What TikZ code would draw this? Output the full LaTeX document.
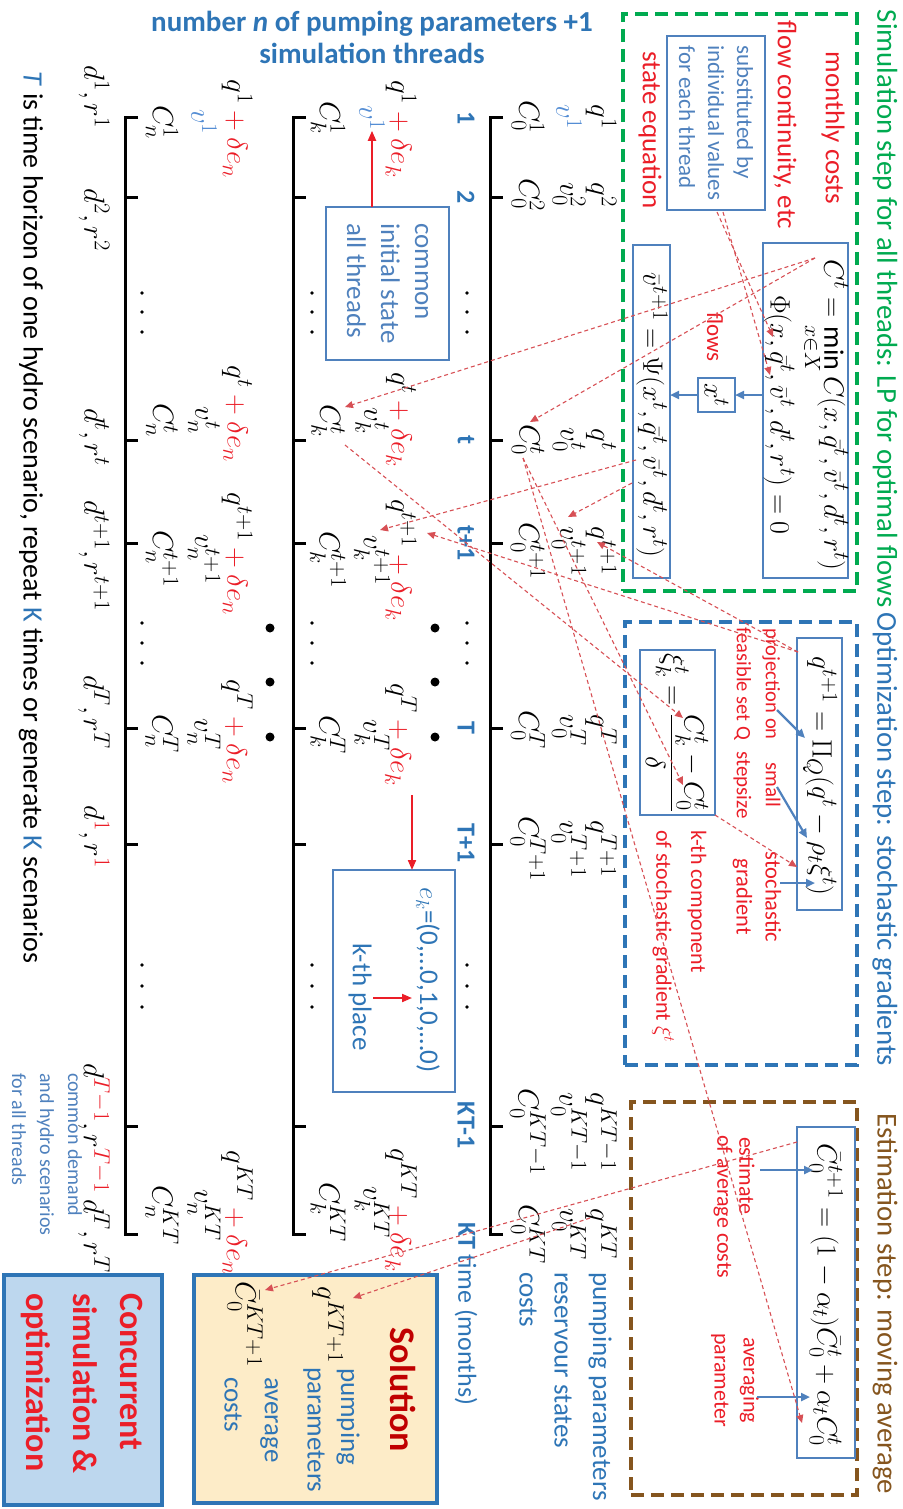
\RequirePackage{fix-cm}
\documentclass[tikz,border=0pt]{standalone}
\usepackage{amsmath}
\usepackage{fontspec}
\setmainfont{Carlito}
\usetikzlibrary{arrows.meta}
\DeclareMathSizes{28}{28}{22}{17}
\DeclareMathSizes{29}{29}{22.5}{17}
\definecolor{tgreen}{RGB}{0,170,80}
\definecolor{tblue}{RGB}{46,117,182}
\definecolor{bblue}{RGB}{79,129,189}
\definecolor{lblue}{RGB}{84,141,212}
\definecolor{tred}{RGB}{235,30,40}
\definecolor{dred}{RGB}{192,0,0}
\definecolor{tbrown}{RGB}{133,85,30}
\definecolor{lred}{RGB}{215,80,85}
\definecolor{solfill}{RGB}{253,236,200}
\definecolor{confill}{RGB}{189,215,238}
\newcommand\fsz[2]{\fontsize{#1}{#2}\selectfont}
\tikzset{
  rt/.style={rotate=-90, inner sep=0pt, outer sep=0pt},
  txt/.style={rt, font=\fsz{27}{33}},
  rtxt/.style={txt, text=tred},
  stxt/.style={rt, font=\fsz{22}{29}, text=tred},
  btxt/.style={txt, text=tblue},
  ttl/.style={rt, font=\fsz{28.8}{34}, anchor=west},
  eqm/.style={rt, font=\fsz{28}{32}},
  lab/.style={rt, font=\fsz{29}{33}},
  eqbox/.style={rt, draw=bblue, line width=2.2pt},
  dashbox/.style={line width=4.5pt, dash pattern=on 13pt off 7pt, inner sep=0pt},
  axisline/.style={line width=3pt, line join=miter},
  tlab/.style={rt, font=\bfseries\fsz{26}{30}, text=tblue},
  barrow/.style={draw=bblue, line width=2.2pt, -{Triangle[length=9pt,width=8pt]}},
  rarrow/.style={draw=tred, line width=2pt, -{Triangle[length=10pt,width=8pt]}},
  darrow/.style={draw=lred, line width=1.1pt, dash pattern=on 4pt off 3pt, -{Triangle[length=8pt,width=7pt]}},
}
\begin{document}
\begin{tikzpicture}[x=1pt,y=-1pt]
\useasboundingbox (0,0) rectangle (902,1509);
% ---------- dashed step boxes ----------
\node[dashbox, draw=tgreen, minimum width=234pt, minimum height=577pt] (simbox) at (740,302.5) {};
\node[dashbox, draw=tblue, minimum width=232pt, minimum height=443pt] (optbox) at (741,843.5) {};
\node[dashbox, draw=tbrown, minimum width=226pt, minimum height=393pt] (estbox) at (744,1298.5) {};
\node[ttl, text=tgreen] (simtitle) at (885,10) {Simulation step for all threads: LP for optimal flows};
\node[ttl, text=tblue] (opttitle) at (885,612) {Optimization step: stochastic gradients};
\node[ttl, text=tbrown] (esttitle) at (885,1113) {Estimation step: moving average};
% ---------- simulation box content ----------
\node[rtxt] (monthly) at (833,128) {monthly costs};
\node[rtxt] (flowcont) at (785,125) {flow continuity, etc};
\node[rtxt] (stateeq) at (650,130) {state equation};
\node[rt, draw=bblue, line width=2pt, minimum width=174pt, minimum height=98pt, align=left, text=bblue, font=\fsz{23}{29}] (subst) at (716,123) {substituted by\\individual values\\for each thread};
\node[eqbox, minimum width=335pt, minimum height=85pt] (eqC) at (805.5,410.5) {};
\node[eqm] (eqC1) at (825,415) {$C^t = \min\limits_{x\in X} C(x,\bar q^t,\bar v^t,d^t,r^t)$};
\node[eqm] (eqC2) at (779,415) {$\Phi(x,\bar q^t,\bar v^t,d^t,r^t)=0$};
\node[rt, draw=bblue, line width=2pt, minimum width=34pt, minimum height=37pt, font=\fsz{28}{30}] (xt) at (716.5,395) {$x^t$};
\node[rtxt, font=\fsz{23}{28}] (flows) at (715,337) {flows};
\node[eqbox, minimum width=333pt, minimum height=37pt] (eqPsi) at (651.5,411.5) {};
\node[eqm] (eqPsi1) at (652,415) {$\bar v^{t+1} = \Psi(x^t,\bar q^t,\bar v^t,d^t,r^t)$};
\draw[barrow] (eqC.south |- xt.north) -- (xt.north);
\draw[barrow] (xt.south) -- (eqPsi.north |- xt.south);
% ---------- optimization box content ----------
\node[eqbox, minimum width=272pt, minimum height=45pt] (eqQ) at (819.5,774) {};
\node[eqm] (eqQ1) at (820,776) {$q^{t+1} = \Pi_Q(q^t - \rho_t\xi^t)$};
\node[stxt, align=center, font=\fsz{20.5}{29}] (proj) at (757,684) {projection on\\feasible set Q};
\node[stxt, align=center, font=\fsz{21}{29}] (small) at (757,785) {small\\stepsize};
\node[stxt, align=center, font=\fsz{22.5}{29}] (stoch) at (757,897) {stochastic\\gradient};
\coordinate (pa1) at (777,710); \coordinate (pb1) at (805,738);
\coordinate (pa2) at (777,787); \coordinate (pb2) at (807,838);
\coordinate (pa3) at (780,883); \coordinate (pb3) at (815,883);
\draw[barrow] (pa1) -- (pb1);
\draw[barrow] (pa2) -- (pb2);
\draw[barrow] (pa3) -- (pb3);
\node[eqbox, minimum width=165pt, minimum height=75pt] (eqXi) at (677.5,732.5) {};
\node[eqm] (eqXi1) at (677,733) {$\xi_k^t = \dfrac{C_k^t - C_0^t}{\delta}$};
\node[stxt, anchor=west] (kth) at (697,830) {k-th component};
\node[stxt, anchor=west] (ofsg) at (663,830) {of stochastic gradient $\xi^t$};
% ---------- estimation box content ----------
\node[eqbox, minimum width=331pt, minimum height=58pt] (eqA) at (826,1292.5) {};
\node[eqm] (eqA1) at (826,1295) {$\bar C_0^{t+1} = (1-\alpha_t)\bar C_0^t + \alpha_t C_0^t$};
\node[stxt, anchor=west] (estim) at (747,1137) {estimate};
\node[stxt, anchor=west] (ofavg) at (723,1135) {of average costs};
\node[stxt, align=center] (avgpar) at (735,1380) {averaging\\parameter};
\coordinate (ea1) at (760,1170); \coordinate (eb1) at (813,1170);
\coordinate (ea2) at (757,1397); \coordinate (eb2) at (810,1397);
\draw[barrow] (ea1) -- (eb1);
\draw[barrow] (ea2) -- (eb2);
% ---------- header ----------
\node[font=\bfseries\fsz{29}{32}, text=tblue, align=center, inner sep=0pt] (nthreads) at (372,37) {number \textit{n} of pumping parameters +1\\simulation threads};
% ---------- time axes ----------
\foreach \x in {490,293,125} {
  \draw[axisline] (\x+13,118) -- (\x,118) -- (\x,1234) -- (\x+13,1234);
  \foreach \ty in {197,440,543,728,844,1126} \draw[axisline] (\x,\ty) -- (\x+13,\ty);
}
\foreach \x in {467,312,142} \foreach \y in {293,312,332,623,643,663,965,986,1007} \fill (\x,\y) circle (1.8);
\foreach \x in {435,270} \foreach \y in {628,682,737} \fill (\x,\y) circle (4.5);
\node[tlab] (l1) at (466,118) {1};
\node[tlab] (l2) at (466,197) {2};
\node[tlab] (lt) at (466,440) {t};
\node[tlab] (lt1) at (466,543) {t+1};
\node[tlab] (lT) at (466,728) {T};
\node[tlab] (lT1) at (466,843) {T+1};
\node[tlab] (lKTm) at (466,1125) {KT-1};
\node[tlab, anchor=west] (lKT) at (466,1222) {KT {\mdseries time (months)}};
% ---------- thread 0 labels ----------
\foreach \Ln/\Ly/\Lq/\Lv/\Lc in {
  1/117/{q^1}/{\color{lblue}v^1}/{C_0^1},
  2/195/{q^2}/{v_0^2}/{C_0^2},
  t/440/{q^t}/{v_0^t}/{C_0^t},
  t1/551/{q^{t+1}}/{v_0^{t+1}}/{C_0^{t+1}},
  T/730/{q^T}/{v_0^T}/{C_0^T},
  T1/849/{q^{T+1}}/{v_0^{T+1}}/{C_0^{T+1}},
  KTm/1132/{q^{KT-1}}/{v_0^{KT-1}}/{C_0^{KT-1}},
  KT/1234/{q^{KT}}/{v_0^{KT}}/{C_0^{KT}}} {
  \node[lab] (q0-\Ln) at (601,\Ly) {$\Lq$};
  \node[lab] (v0-\Ln) at (569,\Ly) {$\Lv$};
  \node[lab] (c0-\Ln) at (528,\Ly) {$\Lc$};
}
% ---------- thread k labels ----------
\foreach \Ln/\Ly/\Lz/\Lq/\Lv/\Lc in {
  1/129/118/{q^1\textcolor{tred}{{}+\delta e_k}}/{\color{lblue}v^1}/{C_k^1},
  t/420/421/{q^t\textcolor{tred}{{}+\delta e_k}}/{v_k^t}/{C_k^t},
  t1/560/560/{q^{t+1}\textcolor{tred}{{}+\delta e_k}}/{v_k^{t+1}}/{C_k^{t+1}},
  T/735/735/{q^T\textcolor{tred}{{}+\delta e_k}}/{v_k^T}/{C_k^T},
  KT/1210/1212/{q^{KT}\textcolor{tred}{{}+\delta e_k}}/{v_k^{KT}}/{C_k^{KT}}} {
  \node[lab] (qk-\Ln) at (401,\Ly) {$\Lq$};
  \node[lab] (vk-\Ln) at (372,\Lz) {$\Lv$};
  \node[lab] (ck-\Ln) at (328,\Lz) {$\Lc$};
}
% ---------- thread n labels ----------
\foreach \Ln/\Ly/\Lz/\Lq/\Lv/\Lc in {
  1/129/122/{q^1\textcolor{tred}{{}+\delta e_n}}/{\color{lblue}v^1}/{C_n^1},
  t/414/420/{q^t\textcolor{tred}{{}+\delta e_n}}/{v_n^t}/{C_n^t},
  t1/554/559/{q^{t+1}\textcolor{tred}{{}+\delta e_n}}/{v_n^{t+1}}/{C_n^{t+1}},
  T/732/734/{q^T\textcolor{tred}{{}+\delta e_n}}/{v_n^T}/{C_n^T},
  KT/1213/1215/{q^{KT}\textcolor{tred}{{}+\delta e_n}}/{v_n^{KT}}/{C_n^{KT}}} {
  \node[lab] (qn-\Ln) at (237,\Ly) {$\Lq$};
  \node[lab] (vn-\Ln) at (204,\Lz) {$\Lv$};
  \node[lab] (cn-\Ln) at (162,\Lz) {$\Lc$};
}
% ---------- scenario labels ----------
\foreach \Ln/\Ly/\Lq in {
  1/97/{d^1, r^1},
  2/220/{d^2, r^2},
  t/437/{d^t, r^t},
  t1/556/{d^{t+1}, r^{t+1}},
  T/712/{d^T, r^T},
  T1/837/{d^{\color{tred}1}, r^{\color{tred}1}},
  KTm/1128/{d^{\color{tred}T-1}, r^{\color{tred}T-1}},
  KT/1236/{d^T, r^T}} {
  \node[lab] (dr-\Ln) at (94,\Ly) {$\Lq$};
}
% ---------- common initial state ----------
\node[rt, draw=bblue, line width=2pt, minimum width=153pt, minimum height=123pt, align=left, text=bblue, font=\fsz{27}{34}] (common) at (387.5,283.5) {common\\initial state\\all threads};
\draw[rarrow] (common.west -| vk-1) -- (vk-1.east);
% ---------- e_k box ----------
\node[rt, draw=bblue, line width=2pt, minimum width=222pt, minimum height=122pt] (ekbox) at (394,981) {};
\node[btxt] (ekline) at (428,980) {$e_k$=(0,\ldots0,1,0,\ldots0)};
\node[btxt] (kplace) at (360,997) {k-th place};
\coordinate (ka) at (373,998); \coordinate (kb) at (412,998);
\draw[rarrow] (ka) -- (kb);
\coordinate (da) at (412,795); \coordinate (db) at (412,870);
\draw[rarrow] (da) -- (db);
% ---------- side texts ----------
\node[txt, anchor=west, font=\fsz{28}{33}] (horizon) at (31,72) {\textcolor{tblue}{\textit{T}} is time horizon of one hydro scenario, repeat \textcolor{tblue}{K} times or generate \textcolor{tblue}{K} scenarios};
\node[rt, anchor=north west, align=left, text=bblue, font=\fsz{20}{28}] (cdemand) at (82,1073) {common demand\\and hydro scenarios\\for all threads};
\node[btxt, anchor=west] (lpump) at (600,1272) {pumping parameters};
\node[btxt, anchor=west] (lres) at (563,1272) {reservour states};
\node[btxt, anchor=west] (lcost) at (528,1272) {costs};
% ---------- solution box ----------
\node[rt, draw=tblue, fill=solfill, line width=4pt, minimum width=228pt, minimum height=243pt] (solbox) at (315.5,1389) {};
\node[rt, font=\bfseries\fsz{36}{40}, text=dred] (soltitle) at (403,1390) {Solution};
\node[lab] (qsol) at (328,1325) {$q^{KT+1}$};
\node[btxt, anchor=west] (solp1) at (348,1368) {pumping};
\node[btxt, anchor=west] (solp2) at (314,1367) {parameters};
\node[lab] (csol) at (245,1324) {$\bar C_0^{KT+1}$};
\node[btxt, anchor=west] (sola1) at (269,1377) {average};
\node[btxt, anchor=west] (sola2) at (233,1377) {costs};
% ---------- concurrent box ----------
\node[rt, draw=tblue, fill=confill, line width=4pt, minimum width=230pt, minimum height=158pt] (conbox) at (83,1390) {};
\node[rt, anchor=west, align=left, font=\bfseries\fsz{34}{47}, text=tred] (context) at (82,1293) {Concurrent\\simulation \&\\optimization};
% ---------- red dashed links ----------
\coordinate (ct) at (815,258);
\coordinate (c0t) at (530,422);
\coordinate (ckt) at (345,407);
\coordinate (sb1) at (717,212);
\coordinate (sb2) at (723,212);
\coordinate (phq) at (773,337);
\coordinate (phv) at (770,375);
\coordinate (ps1) at (636,460);
\coordinate (ps2) at (632,483);
\coordinate (vkn) at (380,530);
\coordinate (v0n) at (568,517);
\coordinate (qe) at (798,652);
\coordinate (q0n) at (597,542);
\coordinate (qkn) at (427,533);
\coordinate (cks) at (345,445);
\coordinate (c0s) at (523,458);
\coordinate (xik) at (683,718);
\coordinate (xi0) at (683,785);
\coordinate (xib) at (715,815);
\coordinate (xiq) at (797,867);
\coordinate (ac0) at (802,1423);
\coordinate (cbar) at (797,1142);
\coordinate (csolt) at (265,1290);
\coordinate (qkt) at (590,1218);
\coordinate (qsolt) at (353,1298);
\draw[darrow] (ct) -- (c0t);
\draw[darrow] (ct) -- (ckt);
\draw[darrow] (sb1) -- (phq);
\draw[darrow] (sb2) -- (phv);
\draw[darrow] (ps1) -- (vkn);
\draw[darrow] (ps2) -- (v0n);
\draw[darrow] (qe) -- (q0n);
\draw[darrow] (qe) -- (qkn);
\draw[darrow] (cks) -- (xik);
\draw[darrow] (c0s) -- (xi0);
\draw[darrow] (xib) -- (xiq);
\draw[darrow] (c0s) -- (ac0);
\draw[darrow] (cbar) -- (csolt);
\draw[darrow] (qkt) -- (qsolt);
\end{tikzpicture}
\end{document}
